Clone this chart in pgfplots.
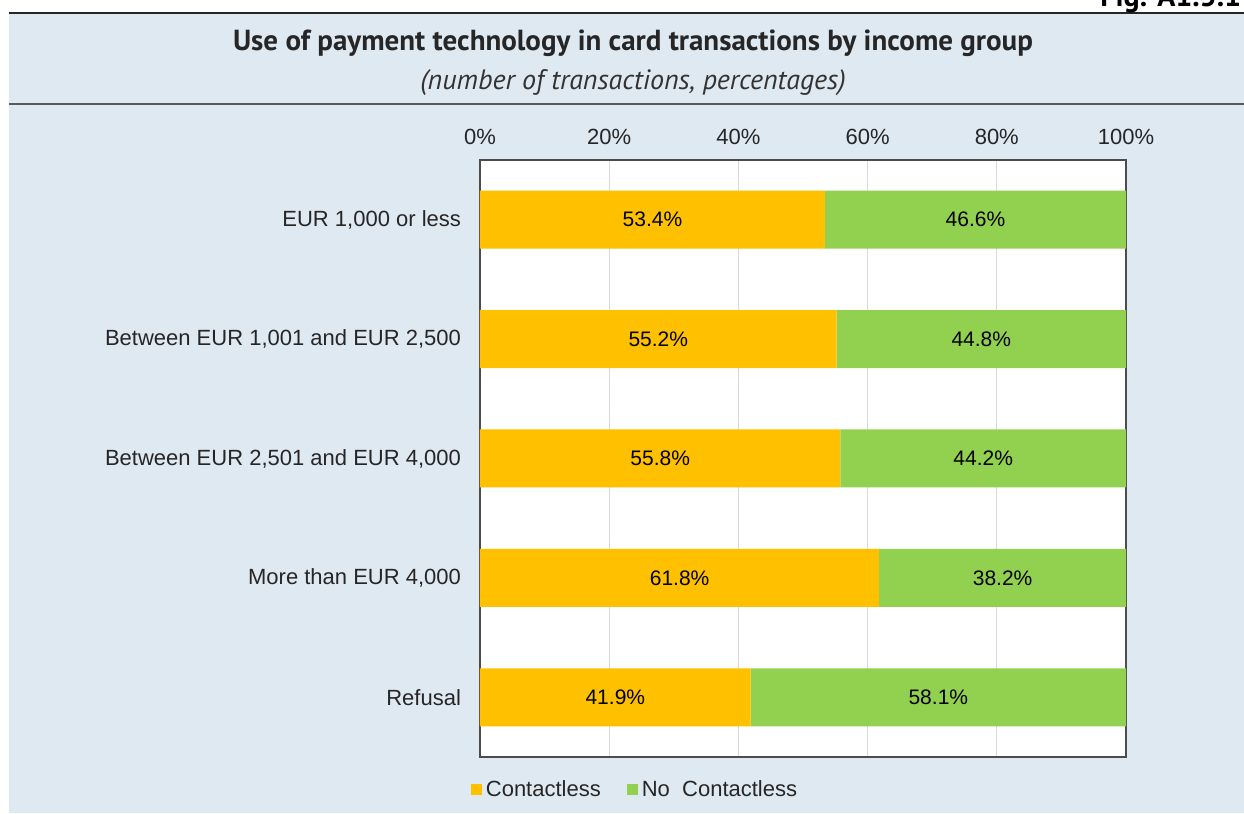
\documentclass[border=0pt]{standalone}
\usepackage{pgfplots}
\pgfplotsset{compat=1.18}
\usepackage{fontspec}
\setmainfont{Liberation Sans}
\newfontfamily\titlefont{PT Sans}
\definecolor{bgblue}{HTML}{DFE9F2}
\definecolor{corange}{HTML}{FFC000}
\definecolor{cgreen}{HTML}{92D050}
\definecolor{gridgray}{HTML}{D9D9D9}
\begin{document}
\begin{tikzpicture}[x=1pt,y=1pt]
\path[use as bounding box] (0,0) rectangle (622,407);
\fill[bgblue] (4.5,0.5) rectangle (622,400.5);
\draw[line width=0.8pt, black!85] (4.5,400.5) -- (622,400.5);
\draw[line width=0.8pt, black!65] (4.5,355) -- (622,355);
\node[font=\titlefont\bfseries\fontsize{15}{18}\selectfont, anchor=base west, inner sep=0pt] at (550,403.8) {Fig. A1.5.1};
\node[font=\titlefont\bfseries\fontsize{14.5}{18}\selectfont, anchor=base, inner sep=0pt, text=black!85] at (316.5,381.5) {Use of payment technology in card transactions by income group};
\node[font=\titlefont\itshape\fontsize{14}{16}\selectfont, anchor=base, inner sep=0pt, text=black!80] at (316.5,362) {(number of transactions, percentages)};
\begin{axis}[
  at={(240pt,28.5pt)}, anchor=south west,
  scale only axis, width=323pt, height=298.5pt,
  xmin=0, xmax=100, ymin=-0.5, ymax=4.5,
  xbar stacked, bar width=29pt,
  axis background/.style={fill=white},
  axis line style={draw=black!70, line width=0.6pt},
  xmajorgrids, grid style={gridgray, line width=0.5pt},
  xtick={0,20,40,60,80,100},
  xticklabels={0\%,20\%,40\%,60\%,80\%,100\%},
  xticklabel pos=upper,
  ytick={0,1,2,3,4},
  yticklabels={Refusal, More than EUR 4{,}000, Between EUR 2{,}501 and EUR 4{,}000, Between EUR 1{,}001 and EUR 2{,}500, EUR 1{,}000 or less},
  major tick length=0pt,
  tick label style={font=\fontsize{11}{12}\selectfont, text=black!85},
  xticklabel style={yshift=4pt},
  yticklabel style={xshift=-6pt},
  legend style={at={(0.2415,-0.055)}, anchor=center, draw=none, fill=none,
    font=\fontsize{11}{12}\selectfont, text=black!85,
    /tikz/every even column/.append style={column sep=11pt}},
  legend columns=2,
]
\addplot[fill=corange, draw=none, legend image code/.code={\fill[corange] (0pt,-2.75pt) rectangle (5.5pt,2.75pt);}]
  coordinates {(41.9,0) (61.8,1) (55.8,2) (55.2,3) (53.4,4)};
\addplot[fill=cgreen, draw=none, legend image code/.code={\fill[cgreen] (0pt,-2.75pt) rectangle (5.5pt,2.75pt);}]
  coordinates {(58.1,0) (38.2,1) (44.2,2) (44.8,3) (46.6,4)};
\legend{Contactless, No\ \ Contactless}
\end{axis}
\begin{axis}[
  at={(240pt,28.5pt)}, anchor=south west,
  scale only axis, width=323pt, height=298.5pt,
  xmin=0, xmax=100, ymin=-0.5, ymax=4.5,
  hide axis,
]
\addplot[draw=none, nodes near coords, point meta=explicit symbolic,
  nodes near coords align={center},
  every node near coord/.append style={font=\fontsize{10.5}{12}\selectfont, text=black, anchor=center}]
  coordinates {(20.95,0) [41.9\%] (30.9,1) [61.8\%] (27.9,2) [55.8\%] (27.6,3) [55.2\%] (26.7,4) [53.4\%]
               (70.95,0) [58.1\%] (80.9,1) [38.2\%] (77.9,2) [44.2\%] (77.6,3) [44.8\%] (76.7,4) [46.6\%]};
\end{axis}
\end{tikzpicture}
\end{document}
